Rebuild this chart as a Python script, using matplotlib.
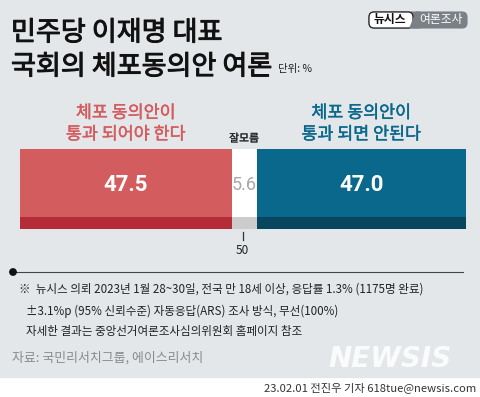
import matplotlib.pyplot as plt
import matplotlib.patheffects as pe
from matplotlib.patches import FancyBboxPatch, Polygon, Rectangle, Circle

plt.rcParams['font.family'] = ['Noto Sans CJK KR', 'DejaVu Sans']

# data
categories = ['체포 동의안이\n통과 되어야 한다', '잘모름', '체포 동의안이\n통과 되면 안된다']
values = [47.5, 5.6, 47.0]
face_colors = ['#d35c5e', '#ffffff', '#09688b']
strip_colors = ['#b52c38', '#cccccc', '#08465f']
label_colors = ['#d35c5e', '#222222', '#09688b']
value_colors = ['#ffffff', '#a8a8a8', '#ffffff']
mid_tick = 50

bg = '#e4e7ea'
fig = plt.figure(figsize=(4.8, 3.97), dpi=100)
fig.patch.set_facecolor('white')

# overlay in pixel coords
ax0 = fig.add_axes([0, 0, 1, 1])
ax0.set_xlim(0, 480)
ax0.set_ylim(397, 0)
ax0.axis('off')
ax0.add_patch(Rectangle((0, 0), 480, 377, color=bg, zorder=0))

thick = [pe.withStroke(linewidth=0.7, foreground='#111111')]
ax0.text(11, 33, '민주당 이재명 대표', fontsize=19.5, color='#111111', va='center', path_effects=thick)
ax0.text(11, 67, '국회의 체포동의안 여론', fontsize=19.5, color='#111111', va='center', path_effects=thick)
ax0.text(278, 69, '단위: %', fontsize=7.5, color='#222222', va='center')

# logo
ax0.add_patch(FancyBboxPatch((369, 12), 98, 16, boxstyle='round,pad=0,rounding_size=5',
                             fc='#7b8086', ec='#7b8086', lw=0.8, zorder=2))
ax0.add_patch(FancyBboxPatch((369, 12), 44, 16, boxstyle='round,pad=0,rounding_size=5',
                             fc='white', ec='#222222', lw=0.9, zorder=3))
ax0.add_patch(Polygon([[409, 28.5], [416, 11.5], [420, 11.5], [420, 28.5]],
                      closed=True, fc='#7b8086', ec='none', zorder=4))
ax0.text(390, 20, '뉴시스', fontsize=8.5, weight='bold', color='#111111', ha='center', va='center', zorder=5)
ax0.text(441, 20, '여론조사', fontsize=8.5, color='white', ha='center', va='center', zorder=5)

# notes
ax0.plot([12, 463], [272, 272], color='#444444', lw=0.8)
ax0.add_patch(Circle((13, 272), 3.2, color='#111111', zorder=3))
notes = ['※  뉴시스 의뢰 2023년 1월 28~30일, 전국 만 18세 이상, 응답률 1.3% (1175명 완료)',
         '±3.1%p (95% 신뢰수준) 자동응답(ARS) 조사 방식, 무선(100%)',
         '자세한 결과는 중앙선거여론조사심의위원회 홈페이지 참조']
ax0.text(19, 289, notes[0], fontsize=8.35, color='#222222', va='center')
ax0.text(26, 311, notes[1], fontsize=8.35, color='#222222', va='center')
ax0.text(26, 332, notes[2], fontsize=8.35, color='#222222', va='center')
ax0.text(12, 358, '자료: 국민리서치그룹, 에이스리서치', fontsize=9.3, color='#8a8a8a', va='center')
ax0.text(452, 359, 'NEWSIS', fontsize=20, weight='bold', style='italic', color='white',
         alpha=0.85, ha='right', va='center', family='DejaVu Sans')
ax0.text(476, 388, '23.02.01 전진우 기자 618tue@newsis.com', fontsize=8.1, color='#333333',
         ha='right', va='center')

# bar
ax = fig.add_axes([20 / 480, 1 - 228.5 / 397, 446 / 480, 79.5 / 397])
ax.set_xlim(0, sum(values))
ax.set_ylim(0, 1)
ax.axis('off')
left = 0
for i, v in enumerate(values):
    ax.barh(0.5, v, height=1, left=left, color=face_colors[i], align='center')
    ax.barh(0.075, v, height=0.15, left=left, color=strip_colors[i], align='center')
    center = left + v / 2
    ax.text(center, 0.55, f'{v:.1f}', fontsize=16 if i != 1 else 13,
            weight='bold' if i != 1 else 'normal', color=value_colors[i],
            ha='center', va='center', family=['Roboto', 'DejaVu Sans'])
    if i == 1:
        ax.text(center, 1.13, categories[i], fontsize=7.8, color=label_colors[i],
                ha='center', va='center',
                path_effects=[pe.withStroke(linewidth=0.15, foreground=label_colors[i])])
    else:
        ax.text(center, 1.32, categories[i], fontsize=12.5, color=label_colors[i],
                ha='center', va='center', linespacing=1.25,
                path_effects=[pe.withStroke(linewidth=0.3, foreground=label_colors[i])])
    left += v

ax.plot([mid_tick, mid_tick], [-0.04, -0.15], color='#333333', lw=0.9, clip_on=False)
ax.text(mid_tick, -0.28, str(mid_tick), fontsize=8.5, color='#222222', ha='center', va='center')

fig.savefig('out.png', dpi=100, facecolor=fig.get_facecolor())
